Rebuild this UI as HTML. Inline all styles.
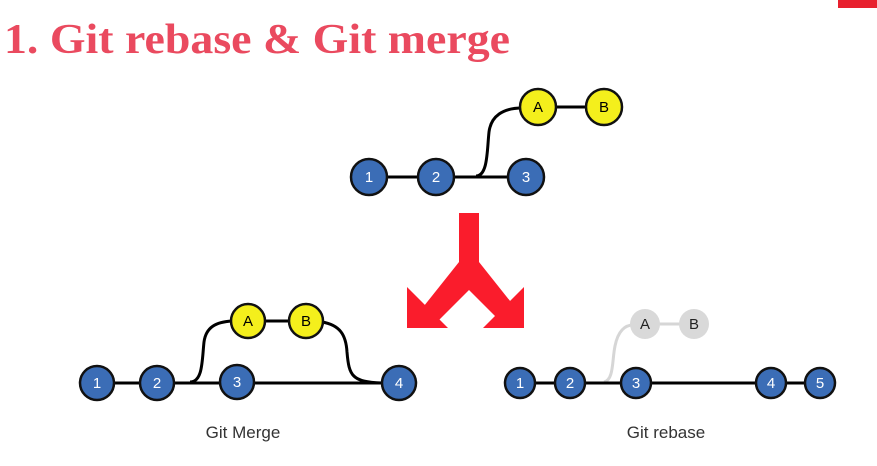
<!DOCTYPE html>
<html><head><meta charset="utf-8"><style>
html,body{margin:0;padding:0;background:#fff;}
svg{display:block;}
</style></head><body>
<svg width="877" height="466" viewBox="0 0 877 466" xmlns="http://www.w3.org/2000/svg">
<rect x="838" y="0" width="39" height="8" fill="#e8202e"/>
<text x="4" y="53" font-family="Liberation Serif, serif" font-weight="bold" font-size="42" fill="#ea4a5f" textLength="506" lengthAdjust="spacingAndGlyphs">1.  Git rebase &amp; Git merge</text>

<g font-family="Liberation Sans, sans-serif" font-size="15" text-anchor="middle">
<!-- top diagram -->
<g stroke="#000" stroke-width="3" fill="none">
<line x1="369" y1="177" x2="526" y2="177"/>
<line x1="538" y1="107" x2="604" y2="107"/>
<path d="M476,176 C488,176 487,150 489,132 C491,116 503,108 522,108"/>
</g>
<g stroke="#111" stroke-width="2.5">
<circle cx="369" cy="177" r="18" fill="#3b6db6"/>
<circle cx="436" cy="177" r="18" fill="#3b6db6"/>
<circle cx="526" cy="177" r="18" fill="#3b6db6"/>
<circle cx="538" cy="107" r="18" fill="#f4ef1c"/>
<circle cx="604" cy="107" r="18" fill="#f4ef1c"/>
</g>
<g fill="#fff"><text x="369" y="182">1</text><text x="436" y="182">2</text><text x="526" y="182">3</text></g>
<g fill="#000"><text x="538" y="112">A</text><text x="604" y="112">B</text></g>

<!-- arrow -->
<g fill="#fa1c2c">
<rect x="459" y="213" width="20" height="60"/>
<polygon points="459,262 479,262 479,280 434,325 420,311"/>
<polygon points="479,262 459,262 459,280 504,325 518,311"/>
<polygon points="407,287 407,328 448,328"/>
<polygon points="524,287 524,328 483,328"/>
</g>

<!-- merge -->
<g stroke="#000" stroke-width="3" fill="none">
<line x1="97" y1="383" x2="399" y2="383"/>
<line x1="248" y1="321" x2="306" y2="321"/>
<path d="M190,382 C203,382 202,360 204,342 C206,327 216,322 232,321"/>
<path d="M322,322 C340,325 346,335 347,352 C349,376 352,382 382,383"/>
</g>
<g stroke="#111" stroke-width="2.5">
<circle cx="97" cy="383" r="17" fill="#3b6db6"/>
<circle cx="157" cy="383" r="17" fill="#3b6db6"/>
<circle cx="237" cy="382" r="17" fill="#3b6db6"/>
<circle cx="399" cy="383" r="17" fill="#3b6db6"/>
<circle cx="248" cy="321" r="17" fill="#f4ef1c"/>
<circle cx="306" cy="321" r="17" fill="#f4ef1c"/>
</g>
<g fill="#fff"><text x="97" y="388">1</text><text x="157" y="388">2</text><text x="237" y="387">3</text><text x="399" y="388">4</text></g>
<g fill="#000"><text x="248" y="326">A</text><text x="306" y="326">B</text></g>

<!-- rebase -->
<g stroke="#d6d6d6" stroke-width="3" fill="none">
<path d="M604,382 C614,380 612,360 615,346 C618,331 625,325 633,325"/>
<line x1="645" y1="324" x2="694" y2="324"/>
</g>
<circle cx="645" cy="324" r="15" fill="#d9d9d9"/>
<circle cx="694" cy="324" r="15" fill="#d9d9d9"/>
<g fill="#222"><text x="645" y="329">A</text><text x="694" y="329">B</text></g>
<line x1="520" y1="383" x2="820" y2="383" stroke="#000" stroke-width="3"/>
<g stroke="#111" stroke-width="2.5" fill="#3b6db6">
<circle cx="520" cy="383" r="15"/>
<circle cx="570" cy="383" r="15"/>
<circle cx="636" cy="383" r="15"/>
<circle cx="771" cy="383" r="15"/>
<circle cx="820" cy="383" r="15"/>
</g>
<g fill="#fff"><text x="520" y="388">1</text><text x="570" y="388">2</text><text x="636" y="388">3</text><text x="771" y="388">4</text><text x="820" y="388">5</text></g>

<g fill="#333" font-size="17">
<text x="243" y="438">Git Merge</text>
<text x="666" y="438">Git rebase</text>
</g>
</g>
</svg>
</body></html>
